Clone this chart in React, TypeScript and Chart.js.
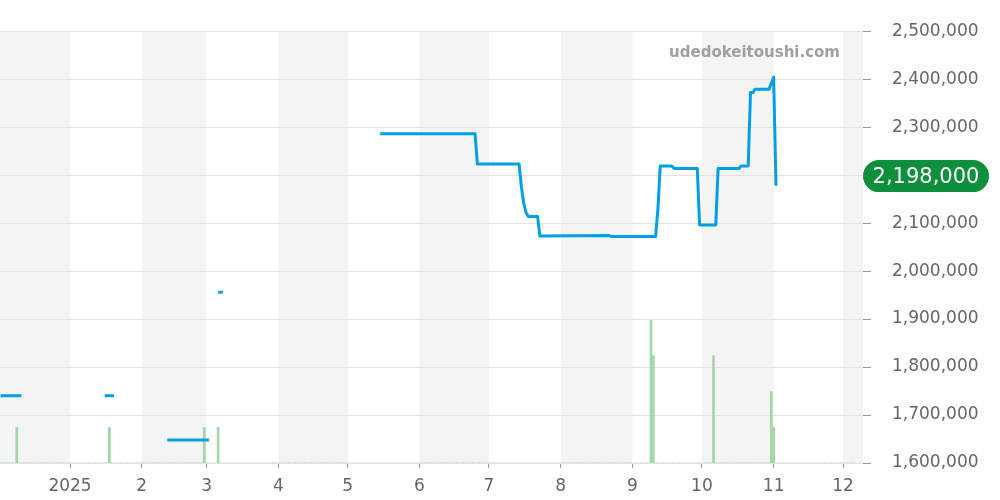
import React, { useEffect, useRef } from 'react';
import { Chart, registerables } from 'chart.js';

Chart.register(...registerables);

// Day index: 0 = 2024-12-01
const monthStarts = [0, 31, 62, 90, 121, 151, 182, 212, 243, 274, 304, 335, 365, 396];
const monthTickLabels = ['', '2025', '2', '3', '4', '5', '6', '7', '8', '9', '10', '11', '12', ''];
const xMin = 0.75;
const xMax = 373.6;

const priceDays = [
  1, 10, null,
  46, 50, null,
  73, 91, null,
  95, 97, null,
  165, 206, 207, 225, 226, 227, 228, 229, 233, 234, 264, 265, 284, 285, 286, 291, 292, 302, 303, 310, 311, 320, 321, 324, 325, 326, 327, 333, 335, 336,
];
const priceValues = [
  1740000, 1740000, null,
  1740000, 1740000, null,
  1648000, 1648000, null,
  1956000, 1956000, null,
  2286000, 2286000, 2223000, 2223000, 2176000, 2142000, 2122000, 2114000, 2114000, 2073000, 2074000, 2072000, 2072000, 2130000, 2219000, 2219000, 2214000, 2214000, 2096000, 2096000, 2214000, 2214000, 2219000, 2219000, 2372000, 2372000, 2379000, 2379000, 2404000, 2178000,
];

const volumeDays = [8, 48, 89, 95, 282, 283, 309, 334, 335];
const volumeValues = [1, 1, 1, 1, 4, 3, 3, 2, 1];
const baselineDays = [1, 370];
const baselineValues = [0, 0];

const latestPrice = 2198000;
const priceMin = 1600000;
const priceMax = 2500000;
const priceStep = 100000;
const volumeMax = 12.1;
const watermark = 'udedokeitoushi.com';

const FONT = '"DejaVu Sans", sans-serif';

export default function App() {
  const ref = useRef<HTMLCanvasElement | null>(null);

  useEffect(() => {
    const canvas = ref.current;
    if (!canvas) return;

    const bandPlugin = {
      id: 'bands',
      beforeDraw(chart: any) {
        const { ctx, chartArea } = chart;
        const xs = chart.scales.x;
        ctx.save();
        ctx.beginPath();
        ctx.rect(chartArea.left, chartArea.top, chartArea.right - chartArea.left, chartArea.bottom - chartArea.top);
        ctx.clip();
        ctx.fillStyle = '#f4f4f4';
        for (let i = 0; i < monthStarts.length - 1; i += 2) {
          const a = xs.getPixelForValue(monthStarts[i]);
          const b = xs.getPixelForValue(monthStarts[i + 1]);
          ctx.fillRect(a, chartArea.top, b - a, chartArea.bottom - chartArea.top);
        }
        ctx.restore();
      },
      beforeDatasetsDraw(chart: any) {
        const { ctx, chartArea } = chart;
        ctx.save();
        ctx.font = 'bold 15px ' + FONT;
        ctx.fillStyle = '#a0a0a0';
        ctx.textAlign = 'right';
        ctx.textBaseline = 'middle';
        ctx.fillText(watermark, chartArea.right - 23, chartArea.top + 22);
        ctx.restore();
      },
      afterDraw(chart: any) {
        const { ctx, chartArea } = chart;
        const y = chart.scales.y.getPixelForValue(latestPrice);
        const x0 = chartArea.right;
        const w = 126;
        const h = 32;
        const r = 16;
        ctx.save();
        ctx.fillStyle = '#0e8f3b';
        ctx.beginPath();
        ctx.moveTo(x0 + r, y - h / 2);
        ctx.lineTo(x0 + w - r, y - h / 2);
        ctx.arc(x0 + w - r, y, r, -Math.PI / 2, Math.PI / 2);
        ctx.lineTo(x0 + r, y + h / 2);
        ctx.arc(x0 + r, y, r, Math.PI / 2, (3 * Math.PI) / 2);
        ctx.closePath();
        ctx.fill();
        ctx.fillStyle = '#ffffff';
        ctx.font = '21px ' + FONT;
        ctx.textAlign = 'center';
        ctx.textBaseline = 'middle';
        ctx.fillText(latestPrice.toLocaleString('en-US'), x0 + w / 2, y + 1);
        ctx.restore();
      },
    };

    const chart = new Chart(canvas, {
      type: 'bar',
      data: {
        datasets: [
          {
            type: 'line',
            data: priceDays.map((d, i) => ({ x: d, y: priceValues[i] })),
            borderColor: '#00a0e9',
            borderWidth: 3,
            borderJoinStyle: 'round',
            pointRadius: 0,
            tension: 0,
            spanGaps: false,
            yAxisID: 'y',
            order: 0,
          } as any,
          {
            type: 'line',
            data: baselineDays.map((d, i) => ({ x: d, y: baselineValues[i] })),
            borderColor: '#a5d6a7',
            borderWidth: 1.5,
            borderDash: [1, 1.3],
            pointRadius: 0,
            yAxisID: 'y2',
            order: 1,
          } as any,
          {
            type: 'bar',
            data: volumeDays.map((d, i) => ({ x: d, y: volumeValues[i] })),
            backgroundColor: '#a2d8a4',
            barThickness: 2,
            yAxisID: 'y2',
            order: 2,
          } as any,
        ],
      },
      options: {
        responsive: false,
        devicePixelRatio: 1,
        animation: false,
        layout: { padding: { top: 30, left: 0, right: 0, bottom: 0 } },
        plugins: { legend: { display: false }, tooltip: { enabled: false } },
        scales: {
          x: {
            type: 'linear',
            min: xMin,
            max: xMax,
            offset: false,
            afterBuildTicks: (scale: any) => {
              scale.ticks = monthStarts.filter((v) => v > xMin && v < xMax).map((v) => ({ value: v }));
            },
            afterFit: (scale: any) => {
              scale.height = 37;
            },
            ticks: {
              autoSkip: false,
              maxRotation: 0,
              padding: 8,
              color: '#666',
              font: { family: FONT, size: 17 },
              callback: (v: any) => monthTickLabels[monthStarts.indexOf(Number(v))],
            },
            grid: { offset: false, drawOnChartArea: false, drawTicks: true, tickLength: 5, color: '#999' },
            border: { display: false },
          },
          y: {
            type: 'linear',
            position: 'right',
            min: priceMin,
            max: priceMax,
            afterFit: (scale: any) => {
              scale.width = 137;
            },
            ticks: {
              stepSize: priceStep,
              padding: 21,
              color: '#666',
              font: { family: FONT, size: 17 },
              callback: (v: any) => Number(v).toLocaleString('en-US'),
            },
            grid: { color: '#e2e2e2', tickLength: 8, tickColor: '#999' },
            border: { display: false },
          },
          y2: {
            type: 'linear',
            display: false,
            min: 0,
            max: volumeMax,
          },
        },
      } as any,
      plugins: [bandPlugin],
    });

    return () => chart.destroy();
  }, []);

  return (
    <div style={{ position: 'absolute', left: 0, top: 0, width: 1000, height: 500 }}>
      <canvas ref={ref} width={1000} height={500} style={{ display: 'block' }} />
    </div>
  );
}
